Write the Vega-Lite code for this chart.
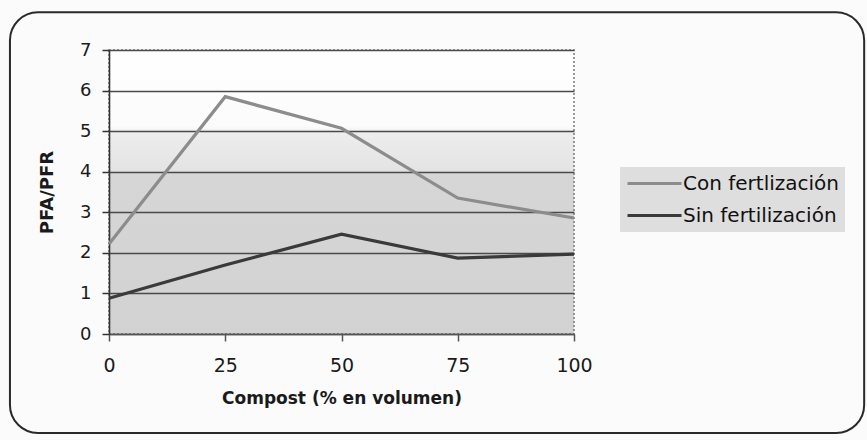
{
  "$schema": "https://vega.github.io/schema/vega-lite/v6.json",
  "width": 465,
  "height": 284,
  "autosize": {"type": "none"},
  "padding": {"left": 109, "top": 50, "right": 293, "bottom": 106},
  "background": "#fbfbfb",
  "config": {
    "font": "DejaVu Sans",
    "view": {
      "stroke": "#7a7a7a",
      "strokeWidth": 1.5,
      "strokeDash": [2, 2],
      "fill": {
        "gradient": "linear",
        "x1": 0, "y1": 0, "x2": 0, "y2": 1,
        "stops": [
          {"offset": 0, "color": "#ffffff"},
          {"offset": 0.27, "color": "#fbfbfb"},
          {"offset": 0.29, "color": "#ededed"},
          {"offset": 0.42, "color": "#e4e4e4"},
          {"offset": 0.44, "color": "#d6d6d6"},
          {"offset": 1, "color": "#d2d2d2"}
        ]
      }
    }
  },
  "datasets": {
    "series": [
      {"compost": 0, "serie": "Con fertlización", "pfa_pfr": 2.22},
      {"compost": 25, "serie": "Con fertlización", "pfa_pfr": 5.85},
      {"compost": 50, "serie": "Con fertlización", "pfa_pfr": 5.07},
      {"compost": 75, "serie": "Con fertlización", "pfa_pfr": 3.35},
      {"compost": 100, "serie": "Con fertlización", "pfa_pfr": 2.86},
      {"compost": 0, "serie": "Sin fertilización", "pfa_pfr": 0.88},
      {"compost": 25, "serie": "Sin fertilización", "pfa_pfr": 1.7},
      {"compost": 50, "serie": "Sin fertilización", "pfa_pfr": 2.46},
      {"compost": 75, "serie": "Sin fertilización", "pfa_pfr": 1.87},
      {"compost": 100, "serie": "Sin fertilización", "pfa_pfr": 1.97}
    ]
  },
  "layer": [
    {
      "description": "rounded outer frame of the chart",
      "data": {"values": [{}]},
      "mark": {"type": "rect", "fillOpacity": 0, "stroke": "#2a2a2a", "strokeWidth": 2, "cornerRadius": 28, "clip": false},
      "encoding": {
        "x": {"datum": -21.3, "type": "quantitative", "scale": {"domain": [0, 100], "nice": false}, "title": "Compost (% en volumen)"},
        "x2": {"datum": 162.4},
        "y": {"datum": 7.93, "type": "quantitative", "scale": {"domain": [0, 7], "nice": false}, "title": "PFA/PFR"},
        "y2": {"datum": -2.44}
      }
    },
    {
      "data": {"name": "series"},
      "mark": {"type": "line", "strokeWidth": 3.2},
      "encoding": {
        "x": {
          "field": "compost", "type": "quantitative",
          "scale": {"domain": [0, 100], "nice": false},
          "title": "Compost (% en volumen)",
          "axis": {
            "values": [0, 25, 50, 75, 100],
            "grid": false, "labelFlush": false,
            "domainColor": "#555555", "domainWidth": 1.6,
            "tickColor": "#555555", "tickWidth": 1.5, "tickSize": 7,
            "labelFontSize": 19, "labelColor": "#1a1a1a", "labelPadding": 15,
            "titleFontSize": 17, "titleFontWeight": "bold", "titleColor": "#1a1a1a", "titlePadding": 15
          }
        },
        "y": {
          "field": "pfa_pfr", "type": "quantitative",
          "scale": {"domain": [0, 7], "nice": false},
          "title": "PFA/PFR",
          "axis": {
            "values": [0, 1, 2, 3, 4, 5, 6, 7],
            "grid": true, "gridColor": "#4a4a4a", "gridWidth": 1.3, "labelFlush": false,
            "domainColor": "#333333", "domainWidth": 1.6,
            "tickColor": "#333333", "tickWidth": 1.5, "tickSize": 7,
            "labelFontSize": 18, "labelColor": "#1a1a1a", "labelPadding": 11,
            "titleFontSize": 18, "titleFontWeight": "bold", "titleColor": "#1a1a1a", "titlePadding": 23
          }
        },
        "color": {
          "field": "serie", "type": "nominal",
          "scale": {"domain": ["Con fertlización", "Sin fertilización"], "range": ["#8c8c8c", "#3a3a3a"]},
          "legend": {
            "title": null,
            "orient": "none", "legendX": 511, "legendY": 117,
            "fillColor": "#dedede",
            "padding": 6,
            "symbolType": "M-3,0H3", "symbolSize": 324, "symbolStrokeWidth": 3, "symbolOffset": 18,
            "labelFontSize": 20, "labelColor": "#111111", "labelOffset": 18,
            "rowPadding": 11
          }
        }
      }
    }
  ]
}
